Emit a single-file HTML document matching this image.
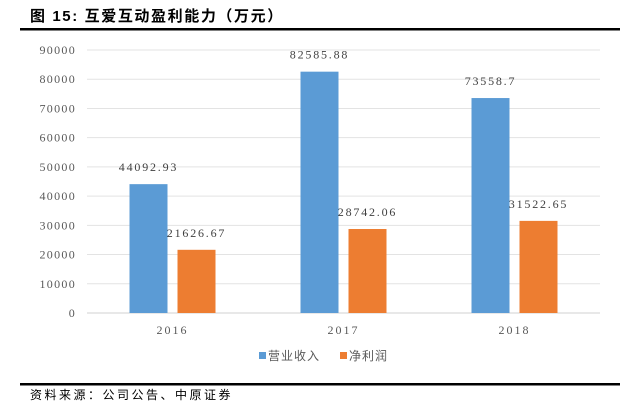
<!DOCTYPE html>
<html><head><meta charset="utf-8"><style>
body{margin:0;background:#fff;width:638px;height:402px;overflow:hidden;font-family:"Liberation Serif","Noto Serif CJK SC",serif;}
</style></head><body>
<svg width="638" height="402">
<text x="30" y="21" font-size="15" font-weight="bold" letter-spacing="1.6" font-family="Liberation Sans, Noto Sans CJK SC, sans-serif" fill="#000">图 15:  互爱互动盈利能力（万元）</text>
<rect x="20" y="28" width="600" height="2.5" fill="#000"/>
<g id="grid"></g><g id="bars"></g><g id="labels"></g>
<g>
<rect x="259" y="352" width="7" height="7" fill="#5B9BD5"/>
<text x="268" y="360" font-size="12" letter-spacing="1" fill="#595959" font-family="Liberation Sans, Noto Sans CJK SC, sans-serif">营业收入</text>
<rect x="340" y="352" width="7" height="7" fill="#ED7D31"/>
<text x="349" y="360" font-size="12" letter-spacing="1" fill="#595959" font-family="Liberation Sans, Noto Sans CJK SC, sans-serif">净利润</text>
</g>
<rect x="20" y="383" width="600" height="2.5" fill="#000"/>
<text x="30" y="399" font-size="12" letter-spacing="2.5" fill="#000" font-family="Liberation Sans, Noto Sans CJK SC, sans-serif">资料来源：公司公告、中原证券</text>
</svg>
<script>
const categories=["2016","2017","2018"];
const revenue=[44092.93,82585.88,73558.7];
const profit=[21626.67,28742.06,31522.65];
const revenueLabels=["44092.93","82585.88","73558.7"];
const profitLabels=["21626.67","28742.06","31522.65"];
const yTicks=[0,10000,20000,30000,40000,50000,60000,70000,80000,90000];
const NS="http://www.w3.org/2000/svg";
const x0=87,x1=600,y0=313,yTop=50,yMax=90000;
const y=v=>y0-(v/yMax)*(y0-yTop);
const bw=(x1-x0)/categories.length;
const cx=i=>x0+bw*(i+0.5);
function mk(t,a,p){const e=document.createElementNS(NS,t);for(const k in a)e.setAttribute(k,a[k]);p.appendChild(e);return e;}
const g=document.getElementById('grid'),b=document.getElementById('bars'),l=document.getElementById('labels');
yTicks.forEach(v=>{
 const ln=mk('line',{x1:x0,x2:x1,y1:y(v),y2:y(v),stroke:v===0?'#d0d0d0':'#e3e3e3','stroke-width':1},g);
 
 
 const t=mk('text',{x:76,y:y(v)+4,'text-anchor':'end','font-size':12,fill:'#595959','letter-spacing':'1.3'},g);
 t.textContent=v;
 
 
});
categories.forEach((c,i)=>{
 const r1=mk('rect',{x:cx(i)-43,y:y(revenue[i]),width:38,height:y0-y(revenue[i]),fill:'#5B9BD5'},b);
 
 
 const r2=mk('rect',{x:cx(i)+5,y:y(profit[i]),width:38,height:y0-y(profit[i]),fill:'#ED7D31'},b);
 
 
 const t1=mk('text',{x:cx(i)-24,y:y(revenue[i])-13,'text-anchor':'middle','font-size':12,fill:'#404040','letter-spacing':'1.8'},l);
 t1.textContent=revenueLabels[i];
 
 
 const t2=mk('text',{x:cx(i)+24,y:y(profit[i])-13,'text-anchor':'middle','font-size':12,fill:'#404040','letter-spacing':'1.8'},l);
 t2.textContent=profitLabels[i];
 
 
 const tc=mk('text',{x:cx(i),y:334,'text-anchor':'middle','font-size':12,fill:'#595959','letter-spacing':'2'},l);
 tc.textContent=c;
 
 
});
</script>
</body></html>
